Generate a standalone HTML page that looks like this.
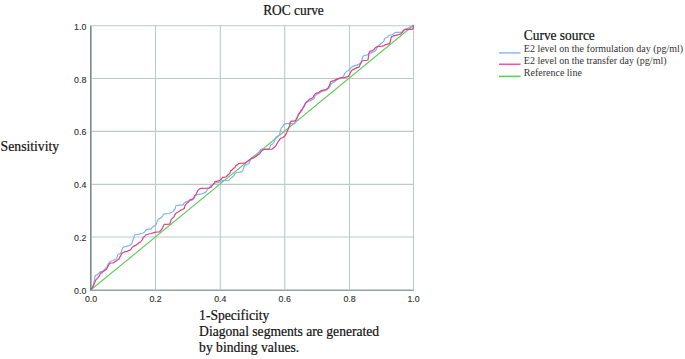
<!DOCTYPE html>
<html><head><meta charset="utf-8"><style>
html,body{margin:0;padding:0;background:#fff;}
body{width:685px;height:359px;overflow:hidden;position:relative;}
svg{position:absolute;left:0;top:0;}
.tk{font-family:"Liberation Sans",sans-serif;font-size:8.8px;fill:#2e2e2e;stroke:#333;stroke-width:0.12px;}
.sf{font-family:"Liberation Serif",serif;fill:#111;stroke:#111;stroke-width:0.2px;}
.lg{font-family:"Liberation Serif",serif;fill:#333;}
</style></head><body>
<svg width="685" height="359" viewBox="0 0 685 359">
<line x1="155.50" y1="25.2" x2="155.50" y2="289" stroke="#bccaca" stroke-width="1.1"/>
<line x1="220.30" y1="25.2" x2="220.30" y2="289" stroke="#bccaca" stroke-width="1.1"/>
<line x1="284.70" y1="25.2" x2="284.70" y2="289" stroke="#bccaca" stroke-width="1.1"/>
<line x1="349.50" y1="25.2" x2="349.50" y2="289" stroke="#bccaca" stroke-width="1.1"/>
<line x1="413.50" y1="25.2" x2="413.50" y2="289" stroke="#bccaca" stroke-width="1.1"/>
<line x1="92" y1="237.00" x2="414" y2="237.00" stroke="#bccaca" stroke-width="1.1"/>
<line x1="92" y1="184.40" x2="414" y2="184.40" stroke="#bccaca" stroke-width="1.1"/>
<line x1="92" y1="131.40" x2="414" y2="131.40" stroke="#bccaca" stroke-width="1.1"/>
<line x1="92" y1="78.50" x2="414" y2="78.50" stroke="#bccaca" stroke-width="1.1"/>
<line x1="92" y1="25.70" x2="414" y2="25.70" stroke="#bccaca" stroke-width="1.1"/>
<line x1="90.5" y1="25.5" x2="90.5" y2="291" stroke="#7a8a8a" stroke-width="1"/>
<line x1="91.5" y1="25.5" x2="91.5" y2="289" stroke="#acbaba" stroke-width="1"/>
<line x1="90" y1="290.5" x2="414" y2="290.5" stroke="#96a6a6" stroke-width="1"/>
<line x1="92" y1="289.5" x2="414" y2="289.5" stroke="#c6d0d0" stroke-width="1"/>
<line x1="91" y1="289.8" x2="413.6" y2="25.3" stroke="#62cc58" stroke-width="1.15"/>
<polyline points="91.0,289.6 92.5,287.1 93.5,284.1 94.5,280.1 95.0,276.1 96.0,275.1 97.5,274.6 99.0,273.1 100.5,271.5 102.5,271.5 104.0,270.0 105.5,268.5 107.1,266.5 108.1,264.0 109.6,262.0 111.1,261.0 113.1,260.5 114.6,259.5 116.1,259.0 117.0,258.1 117.5,255.1 118.5,254.1 120.5,253.6 121.5,251.6 122.5,248.1 123.5,247.1 125.5,246.6 127.0,246.1 129.0,245.6 131.0,244.6 132.0,243.0 133.0,240.0 134.0,237.0 134.6,235.0 136.1,234.5 138.1,234.5 139.6,234.0 141.1,233.5 143.1,233.0 144.6,232.0 145.6,230.5 146.6,229.5 148.6,229.2 151.0,229.1 152.0,227.6 153.5,226.6 155.0,225.6 156.0,224.6 157.0,222.1 158.0,219.6 159.5,218.6 161.5,217.6 162.6,216.1 163.6,214.0 165.6,213.8 168.6,213.5 170.6,212.8 172.6,212.0 173.6,210.5 175.1,209.0 175.6,206.5 176.1,205.5 179.1,205.2 183.0,205.1 184.0,203.1 185.5,202.1 187.0,201.6 189.0,200.9 191.0,200.4 192.5,199.9 194.1,198.6 195.1,196.1 196.1,195.1 197.1,194.6 199.1,194.1 202.1,193.9 203.6,193.1 205.1,192.6 206.6,191.1 207.6,189.1 209.1,188.1 210.1,186.5 211.1,185.5 212.2,185.2 214.0,183.7 215.0,183.0 217.8,182.6 220.6,181.6 222.0,180.5 227.2,180.5 228.9,180.2 230.3,178.8 231.7,177.4 232.7,176.7 233.8,175.7 234.5,174.3 235.2,173.2 236.6,172.5 240.7,172.2 241.8,171.5 242.8,170.4 243.5,168.4 244.2,166.3 244.9,164.9 247.0,164.3 249.0,163.5 250.5,159.5 252.0,158.6 253.5,158.1 255.0,157.1 256.5,155.1 258.1,153.6 259.1,152.1 260.6,149.6 262.1,149.1 269.1,149.1 270.1,146.6 271.1,144.6 272.6,144.0 274.1,142.0 275.1,139.0 276.0,137.0 277.5,136.2 279.5,135.1 280.5,130.1 281.5,127.6 283.0,126.1 284.5,124.1 286.0,123.6 294.6,123.6 295.6,122.1 296.6,119.6 297.6,117.1 298.6,115.0 299.6,113.0 301.1,111.5 302.1,110.0 303.1,108.0 304.1,105.5 305.5,103.1 307.0,102.1 309.0,101.1 311.0,100.1 312.5,99.6 314.0,98.6 315.0,96.1 316.5,94.6 318.1,93.6 320.1,92.6 321.6,91.6 323.6,91.1 325.1,90.6 327.1,89.6 329.1,88.0 330.1,86.0 331.1,84.0 332.1,83.3 335.0,81.6 337.0,79.6 339.0,78.6 341.0,77.9 343.0,77.1 344.0,75.1 345.0,73.1 346.5,71.6 348.1,70.6 349.6,69.6 351.1,67.6 352.6,66.6 354.6,65.6 357.1,65.1 359.1,64.0 361.1,63.0 362.1,59.0 363.0,56.5 364.5,55.3 367.0,55.1 368.5,54.1 370.0,53.1 371.5,52.6 373.0,52.1 375.0,51.1 376.5,49.1 377.6,46.6 378.6,45.6 380.1,44.1 381.6,43.1 383.1,42.1 384.1,40.5 384.6,38.5 386.1,37.8 387.6,37.0 388.6,35.5 390.1,35.0 392.1,34.8 393.6,34.0 394.6,32.8 396.0,32.4 400.9,32.4 402.5,31.4 404.2,29.7 406.3,28.9 408.0,28.0 409.6,27.2 410.9,26.4 412.6,25.4 413.6,25.1" fill="none" stroke="#7fb5ee" stroke-width="1.2" stroke-linejoin="round"/>
<polyline points="91.0,289.6 93.0,286.6 94.0,284.6 95.0,282.1 96.0,279.6 97.0,278.6 98.0,277.6 99.5,275.6 100.5,273.1 102.0,272.6 103.0,271.5 104.0,271.0 105.5,270.0 106.6,269.0 107.6,267.0 108.6,265.0 109.6,263.5 111.1,263.0 113.1,263.0 114.6,262.0 116.1,261.0 117.6,260.0 119.1,259.0 119.5,257.6 121.0,255.1 122.0,253.1 123.5,252.6 125.0,251.6 127.0,251.6 128.5,250.6 130.0,250.1 131.0,249.1 132.0,247.6 134.0,246.1 136.1,245.1 137.6,244.0 139.1,242.5 140.6,242.0 142.1,240.0 143.1,237.5 144.6,236.5 145.6,235.0 147.1,234.5 149.1,234.0 151.1,233.5 154.0,232.6 155.5,232.1 159.5,231.8 161.0,230.1 162.6,228.1 163.6,225.1 164.6,224.3 169.6,224.1 170.6,222.1 171.1,219.6 172.6,218.1 173.6,217.1 174.6,215.6 175.6,213.5 176.6,212.8 178.1,212.0 179.6,211.0 181.1,210.0 182.5,209.6 184.2,208.5 185.0,205.6 186.0,204.1 187.0,203.1 188.5,202.1 189.5,200.1 191.0,199.6 192.5,199.1 193.6,198.1 194.6,195.6 196.1,194.1 197.1,192.1 198.1,190.1 199.6,188.9 201.1,188.3 207.1,188.1 209.6,187.9 211.1,187.1 212.8,184.8 214.0,183.1 215.0,181.6 217.8,181.2 219.9,180.2 221.6,178.8 222.3,177.4 224.7,177.3 226.1,176.7 227.9,175.0 228.9,174.3 230.0,172.9 230.7,170.8 232.0,170.1 233.4,168.4 234.8,167.7 235.9,165.6 237.3,164.9 238.7,163.5 243.5,163.1 245.0,163.1 246.5,162.1 248.0,161.1 250.0,159.6 252.0,158.1 254.0,157.6 255.5,156.6 257.1,155.6 258.6,154.6 259.6,153.6 261.1,151.6 262.6,150.1 264.6,149.3 272.1,149.1 274.1,147.6 275.6,146.1 277.5,142.8 278.9,140.6 280.4,138.4 282.5,137.7 284.7,136.2 285.0,135.6 286.5,133.1 287.6,130.6 288.6,128.1 289.6,125.6 290.1,122.6 291.1,121.1 294.1,121.1 295.6,120.6 296.6,118.6 297.6,116.5 298.6,114.0 300.1,112.5 300.6,111.0 302.1,109.5 303.1,107.5 304.1,106.5 305.0,104.1 306.5,102.1 308.0,100.6 309.5,99.1 311.5,98.6 313.0,97.6 314.0,95.6 315.0,94.1 316.5,93.1 318.6,92.6 320.1,91.6 321.1,90.6 323.1,90.1 325.6,89.9 326.6,89.1 328.1,88.1 329.1,86.0 330.1,83.5 330.6,82.0 332.0,81.1 334.0,80.6 336.0,79.6 338.0,78.6 340.0,78.1 342.0,77.8 344.0,77.6 346.0,77.1 348.1,76.6 349.6,74.6 350.6,72.1 351.6,70.6 353.1,69.6 355.1,68.6 357.1,67.6 359.1,67.1 360.1,64.5 361.1,62.5 362.1,61.0 364.1,60.5 366.0,60.3 368.0,60.0 368.5,56.1 369.0,53.1 370.0,51.1 372.0,50.9 374.0,49.6 375.0,48.1 376.5,47.1 378.1,46.3 380.1,46.3 382.1,46.1 384.1,45.6 385.6,44.6 387.6,44.1 389.6,43.6 390.6,40.5 391.1,37.5 392.1,36.5 393.6,35.8 396.0,35.4 398.4,34.7 400.9,33.9 402.5,32.2 403.8,30.1 405.5,29.4 412.1,29.4 413.0,28.5 413.6,25.1" fill="none" stroke="#e43d86" stroke-width="1.2" stroke-linejoin="round"/>
<text x="86.3" y="294.00" text-anchor="end" class="tk">0.0</text>
<text x="91.00" y="301.7" text-anchor="middle" class="tk">0.0</text>
<text x="86.3" y="241.00" text-anchor="end" class="tk">0.2</text>
<text x="155.50" y="301.7" text-anchor="middle" class="tk">0.2</text>
<text x="86.3" y="188.40" text-anchor="end" class="tk">0.4</text>
<text x="220.30" y="301.7" text-anchor="middle" class="tk">0.4</text>
<text x="86.3" y="135.40" text-anchor="end" class="tk">0.6</text>
<text x="284.70" y="301.7" text-anchor="middle" class="tk">0.6</text>
<text x="86.3" y="82.50" text-anchor="end" class="tk">0.8</text>
<text x="349.50" y="301.7" text-anchor="middle" class="tk">0.8</text>
<text x="86.3" y="29.70" text-anchor="end" class="tk">1.0</text>
<text x="413.50" y="301.7" text-anchor="middle" class="tk">1.0</text>
<text x="263.2" y="14.9" class="sf" style="font-size:13.9px" textLength="60.6" lengthAdjust="spacingAndGlyphs">ROC curve</text>
<text x="0.6" y="151.4" class="sf" style="font-size:13.7px">Sensitivity</text>
<text x="199.1" y="319.9" class="sf" style="font-size:13.6px">1-Specificity</text>
<text x="199.1" y="335.7" class="sf" style="font-size:13.6px">Diagonal segments are generated</text>
<text x="199.1" y="351.6" class="sf" style="font-size:13.6px">by binding values.</text>
<text x="523.8" y="40.2" class="sf" style="font-size:14.1px" textLength="71.0" lengthAdjust="spacingAndGlyphs">Curve source</text>
<line x1="499" y1="52.9" x2="520.5" y2="52.9" stroke="#8fc0f4" stroke-width="1.6"/>
<line x1="499" y1="64.3" x2="520.5" y2="64.3" stroke="#ec5a9c" stroke-width="1.6"/>
<line x1="499" y1="76.4" x2="520.5" y2="76.4" stroke="#5ccf55" stroke-width="1.6"/>
<text x="523.8" y="52.4" class="lg" style="font-size:10px">E2 level on the formulation day (pg/ml)</text>
<text x="523.8" y="63.8" class="lg" style="font-size:10px">E2 level on the transfer day (pg/ml)</text>
<text x="523.8" y="75.5" class="lg" style="font-size:10px">Reference line</text>
</svg>
</body></html>
